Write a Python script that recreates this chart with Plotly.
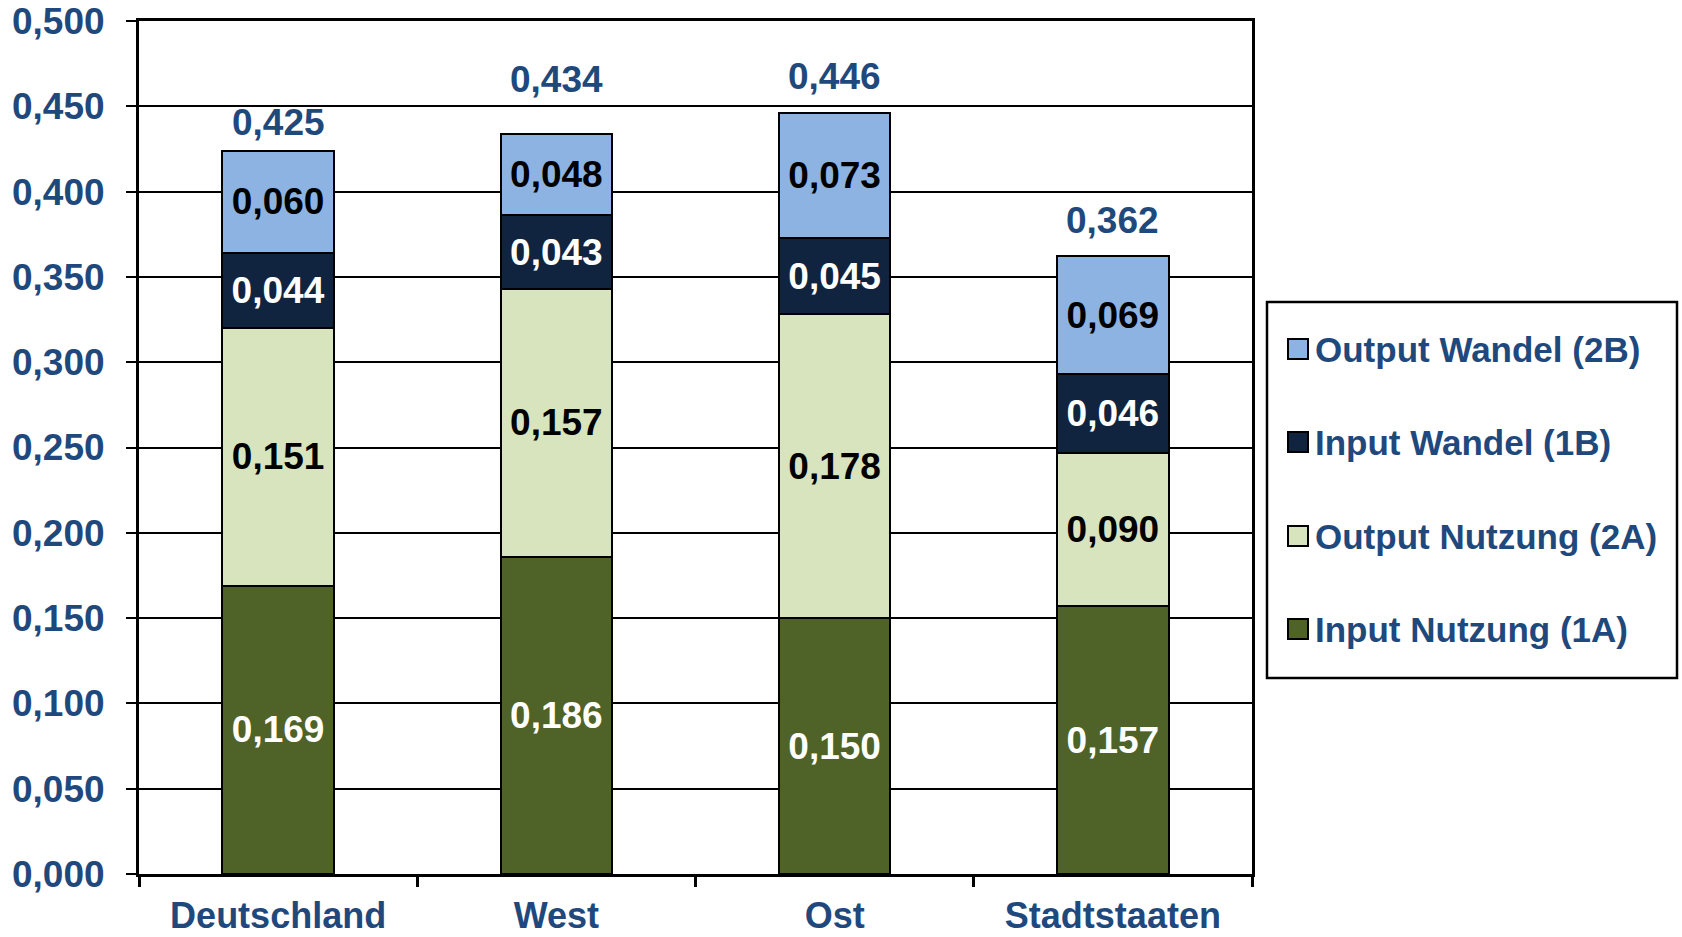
import plotly.graph_objects as go

# Regions
categories = ["Deutschland", "West", "Ost", "Stadtstaaten"]

# Index components per region
input_nutzung = [0.169, 0.186, 0.150, 0.157]   # 1A
output_nutzung = [0.151, 0.157, 0.178, 0.090]  # 2A
input_wandel = [0.044, 0.043, 0.045, 0.046]    # 1B
output_wandel = [0.060, 0.048, 0.073, 0.069]   # 2B
totals = [0.425, 0.434, 0.446, 0.362]

series = [
    ("Input Nutzung (1A)", input_nutzung, "#4F6228", "white"),
    ("Output Nutzung (2A)", output_nutzung, "#D7E4BD", "black"),
    ("Input Wandel (1B)", input_wandel, "#11243F", "white"),
    ("Output Wandel (2B)", output_wandel, "#8DB3E2", "black"),
]

# vertical lift (px) of each total label above its stack
total_lift = [26, 54, 37, 36]

BLUE = "#1F497D"
FONT = "Liberation Sans"
FS = 37
LEG_FS = 35

W, H = 1682, 937
ML, MR, MT, MB = 139, 430, 21, 63
PW, PH = W - ML - MR, H - MT - MB


def px_x(px):
    return (px - ML) / PW


def px_y(py):
    return (H - MB - py) / PH


fig = go.Figure()
for name, vals, color, tcolor in series:
    fig.add_trace(go.Bar(
        x=categories, y=vals, name=name,
        marker=dict(color=color, line=dict(color="black", width=2)),
        width=0.4,
        texttemplate="%{y:.3f}",
        textposition="inside",
        insidetextanchor="middle",
        constraintext="none",
        textfont=dict(family=FONT, size=FS, color=tcolor, weight="bold"),
        showlegend=False,
        hoverinfo="skip",
    ))

annotations = []
# Totals above each stack
for cat, tot, lift in zip(categories, totals, total_lift):
    annotations.append(dict(
        x=cat, y=tot, xref="x", yref="y", yanchor="middle", yshift=lift,
        showarrow=False, text=f"{tot:.3f}".replace(".", ","),
        font=dict(family=FONT, size=FS, color=BLUE, weight="bold"),
    ))

# Boxed legend on the right, top entry = top segment
shapes = [dict(
    type="rect", xref="paper", yref="paper",
    x0=px_x(1267), x1=px_x(1677), y0=px_y(678), y1=px_y(302),
    line=dict(color="black", width=2.5), fillcolor="white", layer="below",
)]
item_y = [349, 442, 536, 629]
for (name, _, color, _), cy in zip(reversed(series), item_y):
    shapes.append(dict(
        type="rect", xref="paper", yref="paper",
        x0=px_x(1288), x1=px_x(1308), y0=px_y(cy + 10), y1=px_y(cy - 10),
        line=dict(color="black", width=2), fillcolor=color,
    ))
    annotations.append(dict(
        xref="paper", yref="paper", x=px_x(1313), y=px_y(cy),
        xanchor="left", yanchor="middle", showarrow=False, text=name,
        font=dict(family=FONT, size=LEG_FS, color=BLUE, weight="bold"),
    ))

fig.update_layout(
    width=W, height=H,
    margin=dict(l=ML, r=MR, t=MT, b=MB),
    barmode="stack",
    separators=",.",
    plot_bgcolor="white", paper_bgcolor="white",
    showlegend=False,
    shapes=shapes,
    annotations=annotations,
)

fig.update_yaxes(
    range=[0, 0.5], dtick=0.05, tickformat=".3f",
    showgrid=True, gridcolor="black", gridwidth=2,
    showline=True, linecolor="black", linewidth=3, mirror=True,
    ticks="outside", ticklen=10, tickwidth=2, tickcolor="black",
    ticklabelstandoff=14,
    tickfont=dict(family=FONT, size=FS, color=BLUE, weight="bold"),
    zeroline=False, automargin=False,
)
fig.update_xaxes(
    showline=True, linecolor="black", linewidth=3, mirror=True,
    ticks="outside", ticklen=10, tickwidth=3, tickcolor="black",
    tickson="boundaries",
    ticklabelstandoff=8,
    tickfont=dict(family=FONT, size=36, color=BLUE, weight="bold"),
    automargin=False,
)

fig.write_html("out.html")
